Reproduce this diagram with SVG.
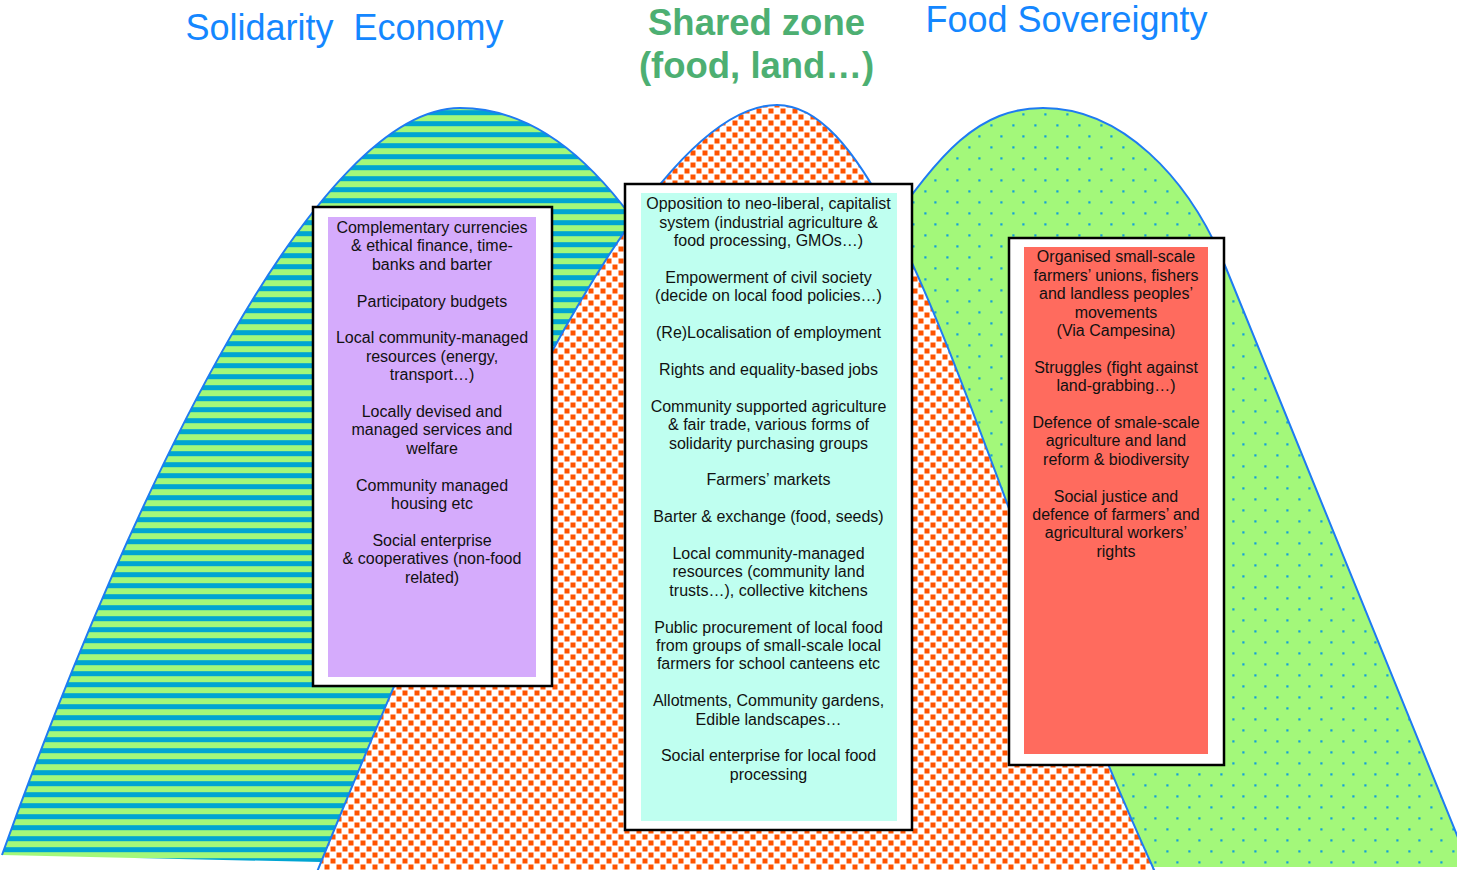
<svg xmlns="http://www.w3.org/2000/svg" width="1457" height="870" viewBox="0 0 1457 870">
<style>
.t{font-family:"Liberation Sans",Arial,sans-serif;font-size:16px;fill:#111;text-anchor:middle}
.h{font-family:"Liberation Sans",Arial,sans-serif;font-size:36px;fill:#1487FF;text-anchor:middle;white-space:pre}
.hg{font-family:"Liberation Sans",Arial,sans-serif;font-size:36.5px;font-weight:bold;fill:#4DAF72;text-anchor:middle}
.edge{fill:none;stroke:#1E7BF2;stroke-width:2}
.box{fill:#fff;stroke:#000;stroke-width:2.5}
</style>
<defs>
<pattern id="stripes" patternUnits="userSpaceOnUse" x="0" y="0" width="20" height="11">
<rect width="20" height="11" fill="#A3F87A"/>
<rect y="0.2" width="20" height="5" fill="#00A5D2"/>
</pattern>
<pattern id="checks" patternUnits="userSpaceOnUse" x="0" y="0" width="12" height="12">
<rect width="12" height="12" fill="#fff"/>
<rect x="0.5" y="0.5" width="5" height="5" fill="#FF5300"/>
<rect x="6.5" y="6.5" width="5" height="5" fill="#FF5300"/>
</pattern>
<pattern id="dots" patternUnits="userSpaceOnUse" x="0" y="0" width="22" height="22">
<rect width="22" height="22" fill="#A3F87A"/>
<rect x="0.3" y="14.3" width="2.2" height="2.2" fill="#13A0D8"/>
<rect x="10.3" y="3.3" width="2.2" height="2.2" fill="#13A0D8"/>
</pattern>
</defs>
<rect width="1457" height="870" fill="#fff"/>

<g id="mountains">
<g id="solidarity-mountain">
<path d="M2,855 C140,470 320,108 460,108 C640,108 760,420 900,875 Z" fill="url(#stripes)"/>
<path class="edge" d="M2,855 C140,470 320,108 460,108 C640,108 760,420 900,875"/>
</g>
<g id="sovereignty-mountain">
<path d="M1043,108 C1120,108 1188,175 1226,268 L1470,867 L600,867 L880,240 C940,150 980,108 1043,108 Z" fill="url(#dots)"/>
<path class="edge" d="M600,867 L880,240 C940,150 980,108 1043,108 C1120,108 1188,175 1226,268 L1470,867"/>
</g>
<g id="shared-mountain">
<path d="M317,872 C460,520 640,105 777,105 C900,105 985,500 1155,872 Z" fill="url(#checks)"/>
<path class="edge" d="M317,872 C460,520 640,105 777,105 C900,105 985,500 1155,872"/>
</g>
</g>

<g id="titles">
<text class="h" x="344.5" y="39.5">Solidarity  Economy</text>
<text class="hg" x="756.5" y="35">Shared zone</text>
<text class="hg" x="756.5" y="77.5">(food, land…)</text>
<text class="h" x="1066.5" y="32">Food Sovereignty</text>
</g>

<g id="solidarity-box">
<rect class="box" x="313" y="207" width="239" height="479"/>
<rect x="328" y="217" width="208" height="460" fill="#D5ABFC"/>
<text class="t" x="432" y="233">Complementary currencies</text>
<text class="t" x="432" y="251.4">&amp; ethical finance, time-</text>
<text class="t" x="432" y="269.8">banks and barter</text>
<text class="t" x="432" y="306.6">Participatory budgets</text>
<text class="t" x="432" y="343.4">Local community-managed</text>
<text class="t" x="432" y="361.8">resources (energy,</text>
<text class="t" x="432" y="380.2">transport…)</text>
<text class="t" x="432" y="417">Locally devised and</text>
<text class="t" x="432" y="435.4">managed services and</text>
<text class="t" x="432" y="453.8">welfare</text>
<text class="t" x="432" y="490.6">Community managed</text>
<text class="t" x="432" y="509">housing etc</text>
<text class="t" x="432" y="545.8">Social enterprise</text>
<text class="t" x="432" y="564.2">&amp; cooperatives (non-food</text>
<text class="t" x="432" y="582.6">related)</text>
</g>

<g id="shared-box">
<rect class="box" x="625" y="184" width="287" height="646"/>
<rect x="641" y="193" width="256" height="628" fill="#BFFFF0"/>
<text class="t" x="768.5" y="209.3">Opposition to neo-liberal, capitalist</text>
<text class="t" x="768.5" y="227.7">system (industrial agriculture &amp;</text>
<text class="t" x="768.5" y="246.1">food processing, GMOs…)</text>
<text class="t" x="768.5" y="282.9">Empowerment of civil society</text>
<text class="t" x="768.5" y="301.3">(decide on local food policies…)</text>
<text class="t" x="768.5" y="338.1">(Re)Localisation of employment</text>
<text class="t" x="768.5" y="374.9">Rights and equality-based jobs</text>
<text class="t" x="768.5" y="411.7">Community supported agriculture</text>
<text class="t" x="768.5" y="430.1">&amp; fair trade, various forms of</text>
<text class="t" x="768.5" y="448.5">solidarity purchasing groups</text>
<text class="t" x="768.5" y="485.3">Farmers’ markets</text>
<text class="t" x="768.5" y="522.1">Barter &amp; exchange (food, seeds)</text>
<text class="t" x="768.5" y="558.9">Local community-managed</text>
<text class="t" x="768.5" y="577.3">resources (community land</text>
<text class="t" x="768.5" y="595.7">trusts…), collective kitchens</text>
<text class="t" x="768.5" y="632.5">Public procurement of local food</text>
<text class="t" x="768.5" y="650.9">from groups of small-scale local</text>
<text class="t" x="768.5" y="669.3">farmers for school canteens etc</text>
<text class="t" x="768.5" y="706.1">Allotments, Community gardens,</text>
<text class="t" x="768.5" y="724.5">Edible landscapes…</text>
<text class="t" x="768.5" y="761.3">Social enterprise for local food</text>
<text class="t" x="768.5" y="779.7">processing</text>
</g>

<g id="sovereignty-box">
<rect class="box" x="1009" y="238" width="215" height="527"/>
<rect x="1024" y="247" width="184" height="507" fill="#FF6B5E"/>
<text class="t" x="1116" y="262.3">Organised small-scale</text>
<text class="t" x="1116" y="280.7">farmers’ unions, fishers</text>
<text class="t" x="1116" y="299.1">and landless peoples’</text>
<text class="t" x="1116" y="317.5">movements</text>
<text class="t" x="1116" y="335.9">(Via Campesina)</text>
<text class="t" x="1116" y="372.7">Struggles (fight against</text>
<text class="t" x="1116" y="391.1">land-grabbing…)</text>
<text class="t" x="1116" y="427.9">Defence of smale-scale</text>
<text class="t" x="1116" y="446.3">agriculture and land</text>
<text class="t" x="1116" y="464.7">reform &amp; biodiversity</text>
<text class="t" x="1116" y="501.5">Social justice and</text>
<text class="t" x="1116" y="519.9">defence of farmers’ and</text>
<text class="t" x="1116" y="538.3">agricultural workers’</text>
<text class="t" x="1116" y="556.7">rights</text>
</g>
</svg>
